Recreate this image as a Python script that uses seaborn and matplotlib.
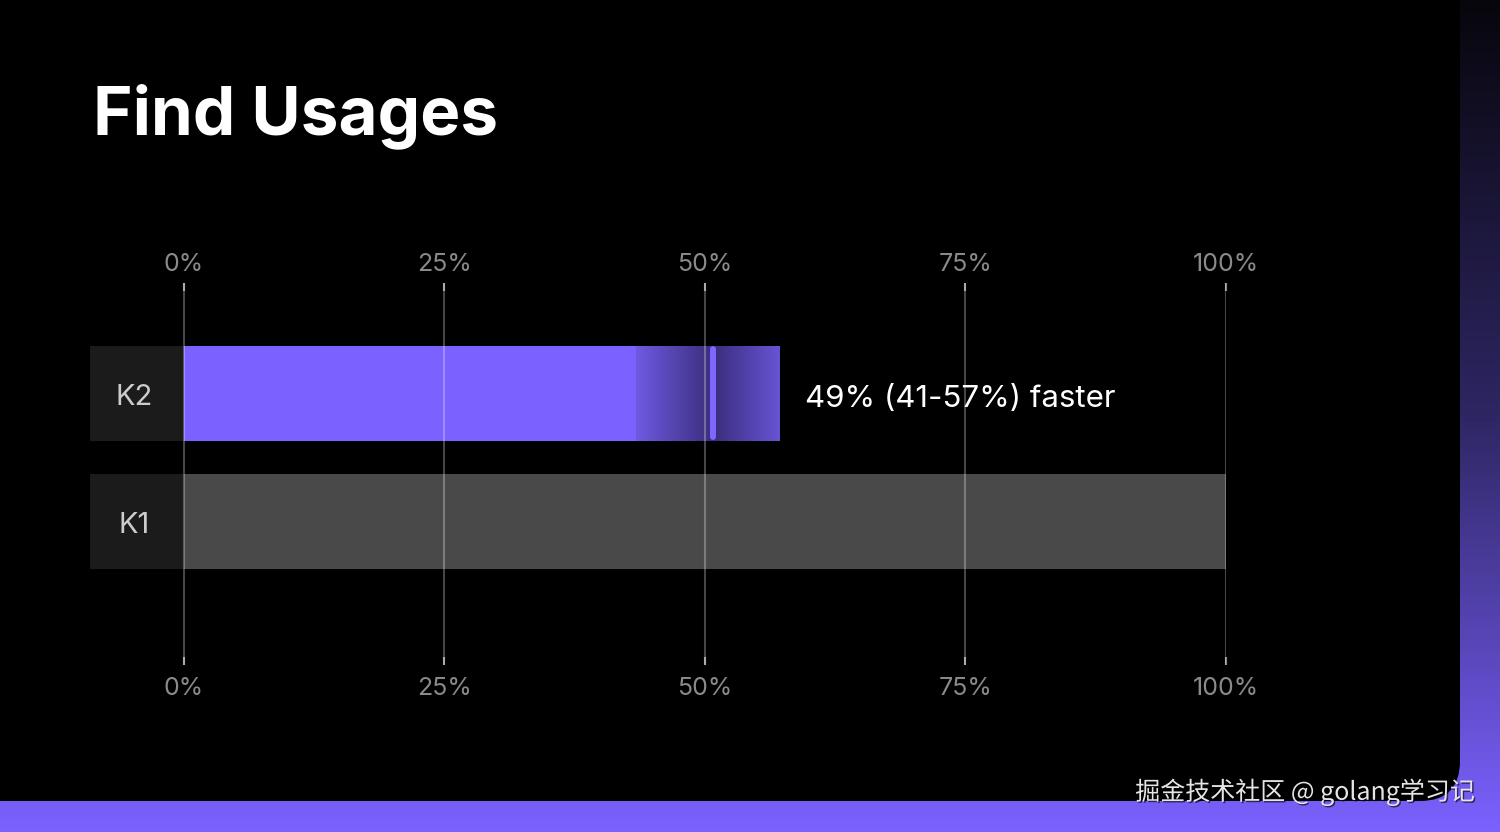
import numpy as np
import pandas as pd
import matplotlib
matplotlib.use("Agg")
import matplotlib.pyplot as plt
import matplotlib.patheffects as pe
import seaborn as sns
from matplotlib.patches import FancyBboxPatch, Rectangle
from matplotlib.colors import LinearSegmentedColormap

# Chart data
categories = ["K2", "K1"]
solid_values = [43.4, 100.0]      # solid part of each bar, % of K1 time
k2_low = 43.4                     # start of K2 uncertainty band
k2_mid = 50.8                     # K2 estimate marker
k2_high = 57.2                    # end of K2 uncertainty band
annotation = "49% (41-57%) faster"
tick_values = [0, 25, 50, 75, 100]
tick_labels = ["0%", "25%", "50%", "75%", "100%"]
title = "Find Usages"
watermark = "掘金技术社区 @ golang学习记"

sns.set_style("dark")
plt.rcParams['font.family'] = ['Inter', 'Noto Sans CJK SC', 'DejaVu Sans']

fig = plt.figure(figsize=(15, 8.32), dpi=100)

# Background: purple gradient with black rounded panel on top (pixel coords)
bg = fig.add_axes([0, 0, 1, 1])
bg.set_xlim(0, 1500)
bg.set_ylim(0, 832)
bg.axis('off')
grad = np.linspace(0, 1, 256).reshape(-1, 1)
cmap_bg = LinearSegmentedColormap.from_list("bg", ["#07060c", "#2e2663", "#7b61ff"])
bg.imshow(grad, extent=(0, 1500, 0, 832), origin='upper', cmap=cmap_bg, aspect='auto')
bg.add_patch(FancyBboxPatch((-60, 31), 1520, 860,
                            boxstyle="round,pad=0,rounding_size=40",
                            fc="black", ec="none", zorder=2))

# Main chart
ax = fig.add_axes([90 / 1500, 1 - 665 / 832, 1136 / 1500, 382 / 832])
ax.set_facecolor("none")

df = pd.DataFrame({"version": categories, "value": solid_values})
sns.barplot(data=df, x="value", y="version", hue="version",
            palette=["#7b61ff", "#494949"], orient="h", width=0.74,
            saturation=1, legend=False, linewidth=0, ax=ax)

# Uncertainty band for K2, darkest at the estimate
xs = np.linspace(k2_low, k2_high, 400)
shade = np.abs(xs - k2_mid) / max(k2_mid - k2_low, k2_high - k2_mid)
cmap_ci = LinearSegmentedColormap.from_list("ci", ["#3a2e7c", "#6e5ae2"])
ax.imshow(shade.reshape(1, -1), extent=(k2_low, k2_high, 0.37, -0.37),
          cmap=cmap_ci, aspect='auto', zorder=2)
ax.plot([k2_mid, k2_mid], [-0.345, 0.345], lw=4.3, color="#7f66ff",
        solid_capstyle='round', zorder=3)

# Label boxes
for i, c in enumerate(categories):
    ax.add_patch(Rectangle((-9, i - 0.37), 9, 0.74, fc="#1b1b1b", ec="none",
                           zorder=1, clip_on=False))
    ax.text(-4.8, i + 0.03, c, ha='center', va='center', color="#cccccc", fontsize=21)

# Grid lines on top of bars
for t in tick_values:
    ax.axvline(t, color="white", alpha=0.28, lw=1.5, zorder=4)

ax.annotate(annotation, xy=(k2_high, 0), xytext=(18, -4),
            textcoords='offset points', va='center', ha='left',
            color="white", fontsize=22.5)

ax.set_xticks(tick_values, tick_labels)
ax.set_yticks([])
ax.tick_params(axis='x', top=True, labeltop=True, bottom=True, labelbottom=True,
               direction='in', length=5.5, width=1.5, color="#8c8c8c",
               pad=8.5, labelcolor="#8a8a8a", labelsize=18)
for tick in ax.xaxis.get_major_ticks():
    tick.label2.set_verticalalignment('baseline')
ax.set_xlabel("")
ax.set_ylabel("")
ax.grid(False)
for s in ax.spines.values():
    s.set_visible(False)
ax.set_xlim(-9, 100)
ax.set_ylim(2.12, -0.86)

fig.text(93 / 1500, 1 - 134 / 832, title, fontsize=48.5, fontweight='bold',
         color="white", va='baseline')

fig.text(1475 / 1500, 1 - 792 / 832, watermark, ha='right', va='center',
         fontsize=18, color="#e6e6e6",
         family=['Noto Sans CJK SC', 'DejaVu Sans'],
         path_effects=[pe.withSimplePatchShadow(offset=(1, -1),
                                                shadow_rgbFace="black", alpha=0.6)])

fig.savefig("out.png", dpi=100)
